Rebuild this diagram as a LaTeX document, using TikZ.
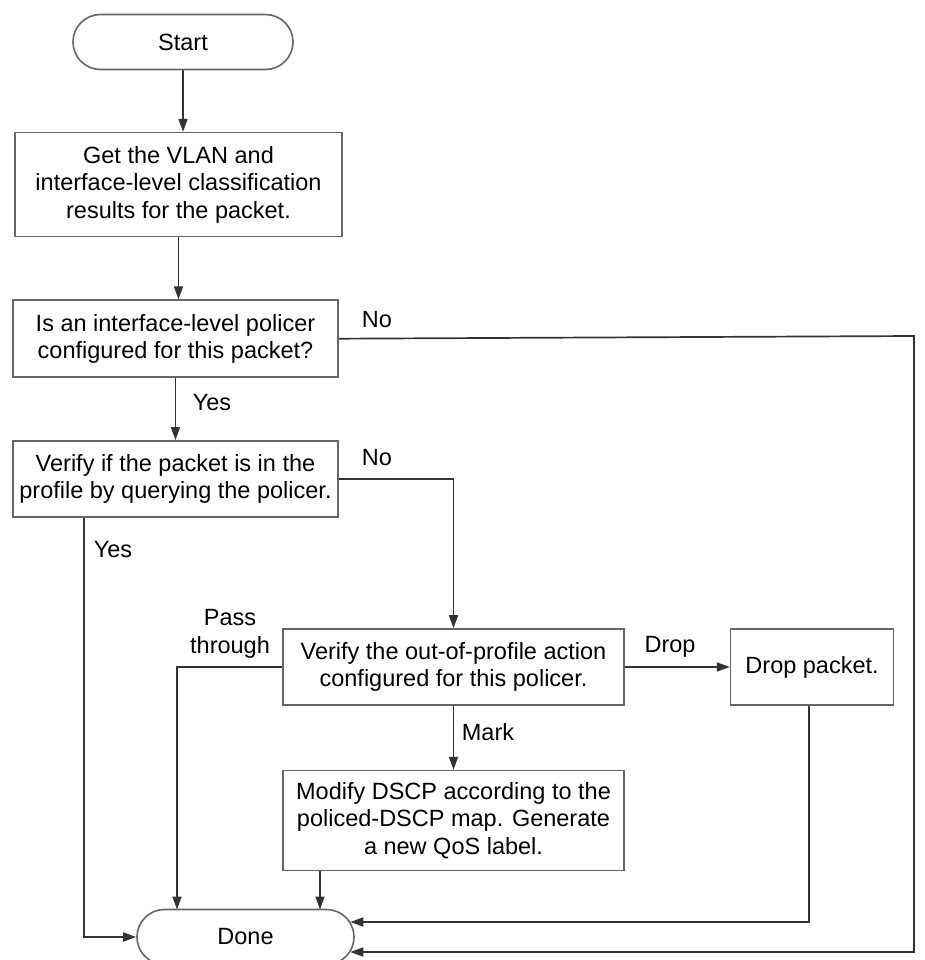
\documentclass[tikz,border=0pt]{standalone}
\usepackage{fontspec}
\setmainfont{Liberation Sans}
\usetikzlibrary{arrows.meta, positioning, calc}

\begin{document}
\begin{tikzpicture}[
    x=1pt, y=-1pt,
    font=\fontsize{23.5}{27.5}\selectfont,
    node distance=62pt,
    >={Triangle[length=13pt, width=9pt]},
    term/.style ={rectangle, rounded corners=27.5pt, draw=black!60, line width=1.6pt,
                  minimum width=220pt, minimum height=55pt, align=center},
    proc/.style ={rectangle, draw=black!60, line width=1.6pt, inner sep=2pt,
                  minimum width=325pt, minimum height=77pt, align=center},
    flow/.style ={draw=black!80, line width=1.7pt, ->},
    lbl/.style  ={inner sep=0pt, align=center},
]
\useasboundingbox (0,0) rectangle (925,960);

% ---- Main column ----
\node[term] (start) at (183,42) {Start};
\node[proc, minimum width=327pt, minimum height=104pt, below=61.5pt of start, xshift=-4.5pt] (get)
   {Get the VLAN and\\interface-level classification\\results for the packet.};
\node[proc, below=62pt of get, xshift=-3pt] (ifpol)
   {Is an interface-level policer\\configured for this packet?};
\node[proc, minimum height=76pt, below=62pt of ifpol] (verify)
   {Verify if the packet is in the\\profile by querying the policer.};

% ---- Out-of-profile branch ----
\node[proc, minimum width=341pt, minimum height=76pt] (action) at (453.5,667)
   {Verify the out-of-profile action\\configured for this policer.};
\node[proc, minimum width=163pt, minimum height=76pt, right=105pt of action] (drop)
   {Drop packet.};
\node[proc, minimum width=341pt, minimum height=100pt, below=64pt of action] (modify)
   {Modify DSCP according to the\\policed-DSCP map. Generate\\a new QoS label.};

\node[term, minimum width=217pt] (done) at (245.5,937) {Done};

% ---- Arrows ----
\draw[flow] (start.south) -- (start.south |- get.north);
\draw[flow] (get.south) -- (get.south |- ifpol.north);
\draw[flow] (ifpol) -- (verify);

\draw[flow] (ifpol.east) -- (914,336) |- ($(done.east)+(-4.5,15)$);
\draw[flow] (verify.east) -| (action.north);
\draw[flow] (verify.south -| 84,0) |- (done.west);

\draw[flow] (action.west) -- (177,667) -- (177,909.5);
\draw[flow] (action) -- (drop);
\draw[flow] (action) -- (modify);
\draw[flow] (modify.south -| 320,0) -- (320,909.5);
\draw[flow] (drop.south -| 809,0) |- ($(done.east)+(-4.5,-15)$);

% ---- Labels ----
\node[lbl] (no1)   at (377,320) {No};
\node[lbl] (yes1)  at (212,403) {Yes};
\node[lbl] (no2)   at (377,458) {No};
\node[lbl] (yes2)  at (113,550) {Yes};
\node[lbl] (pass)  at (230,634) {Pass\\through};
\node[lbl] (dropl) at (670,647) {Drop};
\node[lbl] (mark)  at (488,732) {Mark};

\end{tikzpicture}
\end{document}
